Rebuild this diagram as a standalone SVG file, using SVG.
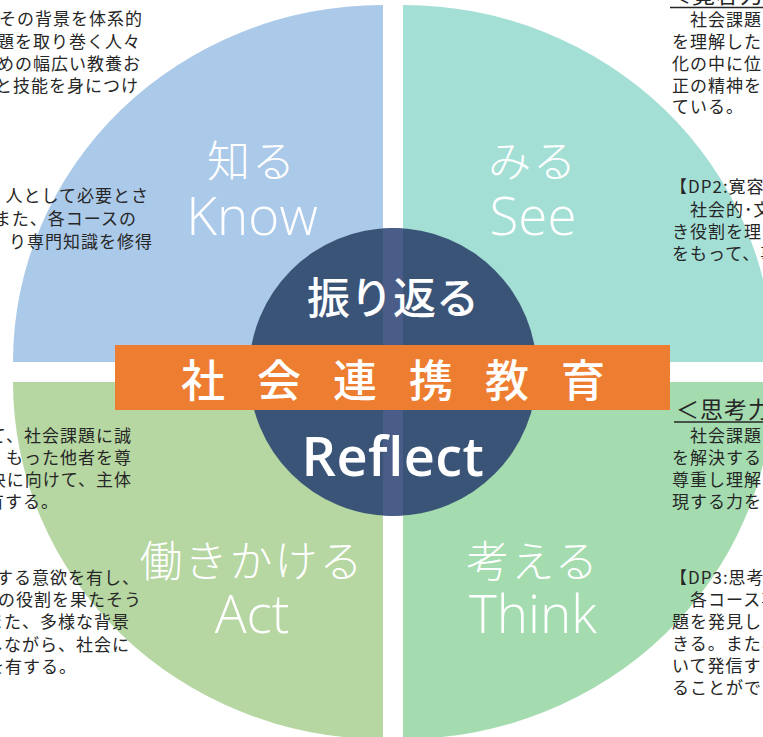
<svg xmlns="http://www.w3.org/2000/svg" width="763" height="737" viewBox="0 0 763 737">
<style>
.body{font-family:"Noto Sans CJK JP","Noto Sans",sans-serif;font-size:17px;fill:#262626;letter-spacing:1px}
.jp{font-family:"Noto Sans CJK JP",sans-serif;font-size:43px;font-weight:300;fill:#ffffff;letter-spacing:2px;text-anchor:middle}
.en{font-family:"Open Sans","Noto Sans",sans-serif;font-size:53px;font-weight:300;fill:#ffffff;text-anchor:middle}
.hdr{font-family:"Noto Sans CJK JP",sans-serif;font-size:23px;fill:#262626}
</style>
<defs>
<clipPath id="cc"><circle cx="393" cy="372" r="144"/></clipPath>
</defs>
<rect width="763" height="737" fill="#ffffff"/>
<g id="know">
<path d="M383,362 L13,362 A370,357 0 0 1 383,5 Z" fill="#abc9e8"/>
<text class="jp" x="252" y="177">知る</text>
<text class="en" x="252" y="235">Know</text>
</g>
<g id="see">
<path d="M403,362 L403,5 A370,357 0 0 1 773,362 Z" fill="#a4dfd6"/>
<text class="jp" x="533" y="177">みる</text>
<text class="en" x="533" y="235">See</text>
</g>
<g id="act">
<path d="M383,382 L383,739 A370,357 0 0 1 13,382 Z" fill="#b6d6a2"/>
<text class="jp" x="252" y="577">働きかける</text>
<text class="en" x="252" y="633">Act</text>
</g>
<g id="think">
<path d="M403,382 L773,382 A370,357 0 0 1 403,739 Z" fill="#a4dcb0"/>
<text class="jp" x="533" y="577">考える</text>
<text class="en" x="533" y="633">Think</text>
</g>
<g id="reflect">
<circle cx="393" cy="372" r="144" fill="#3a5478"/>
<rect x="383" y="220" width="20" height="310" fill="#4a5c88" clip-path="url(#cc)"/>
<text x="393" y="314" text-anchor="middle" font-family="Noto Sans CJK JP, sans-serif" font-size="43" font-weight="500" fill="#ffffff">振り返る</text>
<text x="393" y="476" text-anchor="middle" font-family="Open Sans, Noto Sans, sans-serif" font-size="54" font-weight="600" fill="#ffffff" letter-spacing="0.5">Reflect</text>
</g>
<g id="band">
<rect x="115" y="345" width="555" height="65" fill="#ed7d31"/>
<text x="181" y="397" font-family="Noto Sans CJK JP, sans-serif" font-size="44" font-weight="500" fill="#ffffff" letter-spacing="32">社会連携教育</text>
</g>
<g id="text-tl" class="body" text-anchor="end">
<text x="143" y="25">その背景を体系的</text>
<text x="141" y="48">題を取り巻く人々</text>
<text x="141" y="70">めの幅広い教養お</text>
<text x="139" y="92">と技能を身につけ</text>
<text x="149" y="202">人として必要とさ</text>
<text x="137" y="225">また、各コースの</text>
<text x="153" y="248">り専門知識を修得</text>
</g>
<g id="text-bl" class="body" text-anchor="end">
<text x="132" y="442">て、社会課題に誠</text>
<text x="132" y="464">もった他者を尊</text>
<text x="132" y="486">決に向けて、主体</text>
<text x="59" y="508">有する。</text>
<text x="140" y="584">とする意欲を有し、</text>
<text x="142" y="606">の役割を果たそう</text>
<text x="130" y="628">また、多様な背景</text>
<text x="130" y="651">しながら、社会に</text>
<text x="77" y="673">を有する。</text>
</g>
<g id="text-tr" class="body">
<text class="hdr" x="668" y="3">＜寛容力＞</text>
<line x1="670" y1="7.5" x2="763" y2="7.5" stroke="#262626" stroke-width="1.5"/>
<text x="672" y="26">　社会課題を</text>
<text x="672" y="48">を理解した</text>
<text x="672" y="70">化の中に位</text>
<text x="672" y="92">正の精神を</text>
<text x="672" y="113">ている。</text>
<text x="670" y="193">【DP2:寛容</text>
<text x="672" y="216">　社会的･文</text>
<text x="672" y="238">き役割を理</text>
<text x="672" y="260">をもって、事</text>
</g>
<g id="text-br" class="body">
<text class="hdr" x="676" y="418">＜思考力</text>
<line x1="674" y1="422" x2="763" y2="422" stroke="#262626" stroke-width="1.5"/>
<text x="672" y="442">　社会課題</text>
<text x="672" y="464">を解決する</text>
<text x="672" y="486">尊重し理解</text>
<text x="672" y="508">現する力を</text>
<text x="670" y="584">【DP3:思考</text>
<text x="672" y="606">　各コース専</text>
<text x="672" y="628">題を発見し</text>
<text x="672" y="650">きる。また、</text>
<text x="672" y="672">いて発信す</text>
<text x="672" y="694">ることがで</text>
</g>
<g id="connectors"></g>
</svg>
